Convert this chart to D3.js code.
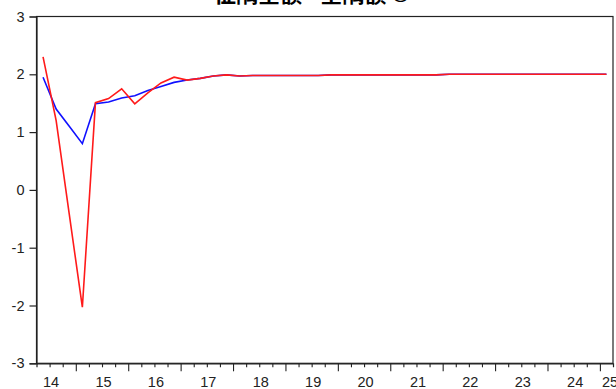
<!DOCTYPE html>
<html>
<head>
<meta charset="utf-8">
<script src="https://cdn.jsdelivr.net/npm/d3@7"></script>
<style>
  html, body { margin: 0; padding: 0; background: #fff; }
  svg { display: block; }
</style>
</head>
<body>
<svg id="chart" width="616" height="389"></svg>
<script>
// ---- data ----
const title = "征隅全额 - 全隅额 ©";
const periods = [
  "2014Q2","2014Q3","2014Q4",
  "2015Q1","2015Q2","2015Q3","2015Q4",
  "2016Q1","2016Q2","2016Q3","2016Q4",
  "2017Q1","2017Q2","2017Q3","2017Q4",
  "2018Q1","2018Q2","2018Q3","2018Q4",
  "2019Q1","2019Q2","2019Q3","2019Q4",
  "2020Q1","2020Q2","2020Q3","2020Q4",
  "2021Q1","2021Q2","2021Q3","2021Q4",
  "2022Q1","2022Q2","2022Q3","2022Q4",
  "2023Q1","2023Q2","2023Q3","2023Q4",
  "2024Q1","2024Q2","2024Q3","2024Q4",
  "2025Q1"
];
const blueSeries = [
  1.95, 1.40, 1.10,
  0.80, 1.49, 1.52, 1.59,
  1.63, 1.72, 1.79, 1.86,
  1.90, 1.93, 1.97, 1.99,
  1.97, 1.98, 1.98, 1.98,
  1.98, 1.98, 1.98, 1.99,
  1.99, 1.99, 1.99, 1.99,
  1.99, 1.99, 1.99, 1.99,
  2.00, 2.00, 2.00, 2.00,
  2.00, 2.00, 2.00, 2.00,
  2.00, 2.00, 2.00, 2.00,
  2.00
];
const redSeries = [
  2.30, 1.20, -0.42,
  -2.03, 1.51, 1.58, 1.75,
  1.49, 1.68, 1.85, 1.95,
  1.90, 1.93, 1.97, 1.99,
  1.97, 1.98, 1.98, 1.98,
  1.98, 1.98, 1.98, 1.99,
  1.99, 1.99, 1.99, 1.99,
  1.99, 1.99, 1.99, 1.99,
  2.00, 2.00, 2.00, 2.00,
  2.00, 2.00, 2.00, 2.00,
  2.00, 2.00, 2.00, 2.00,
  2.00
];
const yTicks = [-3, -2, -1, 0, 1, 2, 3];
const yearLabels = ["14","15","16","17","18","19","20","21","22","23","24","25"];

// ---- helpers ----
function periodToTime(p) {
  const yr = +p.slice(0, 4), q = +p.slice(5);
  return yr + (q - 1) / 4 + 0.125; // centre of quarter
}

const svg = d3.select("#chart");
const L = 36.5, R = 613, T = 16.5, B = 363.3;

const x = d3.scaleLinear().domain([2014.25, 2025.25]).range([L, R]);
const y = d3.scaleLinear().domain([-3, 3]).range([B, T]);

// title (clipped at top as in the reference)
svg.append("text")
  .attr("x", 312).attr("y", 2)
  .attr("text-anchor", "middle")
  .attr("font-family", "'Noto Sans CJK SC', sans-serif")
  .attr("font-size", 22)
  .attr("font-weight", "bold")
  .attr("fill", "#000")
  .text(title);

// frame
svg.append("rect")
  .attr("x", L).attr("y", T)
  .attr("width", R - L).attr("height", B - T)
  .attr("fill", "none").attr("stroke", "#222").attr("stroke-width", 1.2);

// y axis
const yAxis = d3.axisLeft(y).tickValues(yTicks).tickSize(7).tickPadding(5)
  .tickFormat(d => String(d));
const gy = svg.append("g").attr("transform", `translate(${L},0)`).call(yAxis);
gy.select(".domain").attr("stroke", "#222").attr("stroke-width", 1.2);
gy.selectAll(".tick line").attr("stroke", "#222").attr("stroke-width", 1.2);
gy.selectAll(".tick text")
  .attr("font-family", "Arial, 'Liberation Sans', sans-serif")
  .attr("font-size", 14.5).attr("fill", "#222");

// x axis: quarter boundary ticks (minor) and year ticks (major)
const quarterTicks = periods.slice(1).map(p => periodToTime(p) - 0.125);
const minorTicks = quarterTicks.filter(t => Math.abs(t - Math.round(t)) > 1e-6);
const majorTicks = quarterTicks.filter(t => Math.abs(t - Math.round(t)) <= 1e-6);

const gxMinor = svg.append("g").attr("transform", `translate(0,${B})`)
  .call(d3.axisBottom(x).tickValues(minorTicks).tickSize(4).tickFormat(""));
gxMinor.select(".domain").attr("stroke", "#222").attr("stroke-width", 1.2);
gxMinor.selectAll(".tick line").attr("stroke", "#222").attr("stroke-width", 1.1);

const gxMajor = svg.append("g").attr("transform", `translate(0,${B})`)
  .call(d3.axisBottom(x).tickValues(majorTicks).tickSize(8).tickFormat(""));
gxMajor.select(".domain").remove();
gxMajor.selectAll(".tick line").attr("stroke", "#222").attr("stroke-width", 1.1);

// year labels centred in each year (last one pulled inside)
svg.append("g").selectAll("text").data(yearLabels).join("text")
  .attr("x", d => {
    const c = x(2000 + (+d) + 0.5) + 1.5;
    return Math.min(c, R - 3);
  })
  .attr("y", 387)
  .attr("text-anchor", "middle")
  .attr("font-family", "Arial, 'Liberation Sans', sans-serif")
  .attr("font-size", 14.5).attr("fill", "#222")
  .text(d => d);

// lines
const line = d3.line()
  .x((d, i) => x(periodToTime(periods[i])))
  .y(d => y(d));

svg.append("path").datum(blueSeries)
  .attr("d", line).attr("fill", "none")
  .attr("stroke", "#1010ff").attr("stroke-width", 1.6);

svg.append("path").datum(redSeries)
  .attr("d", line).attr("fill", "none")
  .attr("stroke", "#ff1a1a").attr("stroke-width", 1.6);
</script>
</body>
</html>
